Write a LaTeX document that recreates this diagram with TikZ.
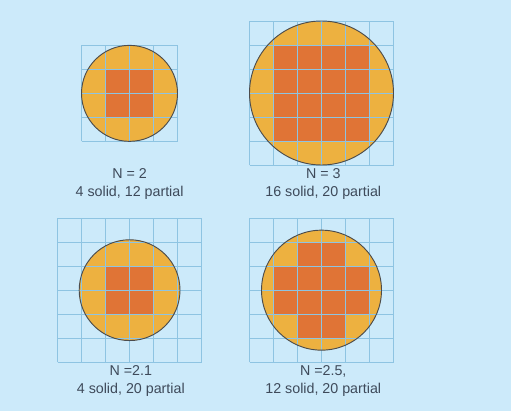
\documentclass[tikz,border=0pt]{standalone}
\usepackage{fontspec}
\setmainfont{Liberation Sans}
\definecolor{sky}{HTML}{CCEAFA}
\definecolor{gridblue}{HTML}{8EC4E2}
\definecolor{yolk}{HTML}{EDB140}
\definecolor{rust}{HTML}{E07436}
\definecolor{ink}{HTML}{3E4A5A}
\tikzset{
  disk/.style={fill=yolk},
  rim/.style={draw=black!70,line width=0.7pt},
  cell/.style={fill=rust},
  gridln/.style={draw=gridblue,line width=0.6pt,step=1},
  lbl/.style={align=center,anchor=north,inner sep=0pt,text=ink,font=\fontsize{10.7}{13}\selectfont}
}

\begin{document}
\begin{tikzpicture}[x=18pt,y=18pt]

\fill[sky] (0,0) rectangle (21.292,-17.125);

% N = 2
\begin{scope}[shift={(5.396,-3.89)}]
\fill[disk] (0,0) circle (2);
\fill[cell] (-1,-1) rectangle (1,1);
\draw[gridln] (-2,-2) grid (2,2);
\draw[rim] (0,0) circle (2);
\end{scope}
\node[lbl] (lblA) at (5.40,-7.03) {N = 2\\4 solid, 12 partial};

% N = 3
\begin{scope}[shift={(13.396,-3.875)}]
\fill[disk] (0,0) circle (3);
\fill[cell] (-2,-2) rectangle (2,2);
\draw[gridln] (-3,-3) grid (3,3);
\draw[rim] (0,0) circle (3);
\end{scope}
\node[lbl] (lblB) at (13.47,-7.03) {N = 3\\16 solid, 20 partial};

% N = 2.1
\begin{scope}[shift={(5.40,-12.09)}]
\fill[disk] (0,0) circle (2.1);
\fill[cell] (-1,-1) rectangle (1,1);
\draw[gridln] (-3,-3) grid (3,3);
\draw[rim] (0,0) circle (2.1);
\end{scope}
\node[lbl] (lblC) at (5.45,-15.24) {N =2.1\\4 solid, 20 partial};

% N = 2.5
\begin{scope}[shift={(13.396,-12.09)}]
\fill[disk] (0,0) circle (2.5);
\fill[cell] (-1,-2) rectangle (1,2);
\fill[cell] (-2,-1) rectangle (2,1);
\draw[gridln] (-3,-3) grid (3,3);
\draw[rim] (0,0) circle (2.5);
\end{scope}
\node[lbl] (lblD) at (13.47,-15.24) {N =2.5,\\12 solid, 20 partial};

\end{tikzpicture}
\end{document}
